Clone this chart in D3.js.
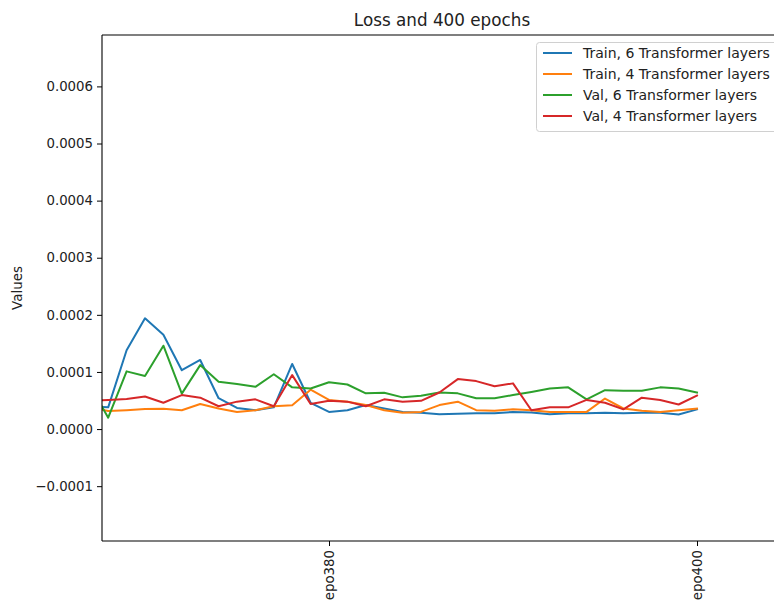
<!DOCTYPE html>
<html>
<head>
<meta charset="utf-8">
<script src="https://cdn.jsdelivr.net/npm/d3@7/dist/d3.min.js"></script>
<style>
  html, body { margin: 0; padding: 0; background: #fff; }
  svg { display: block; }
  text { font-family: "DejaVu Sans", sans-serif; fill: #222; }
</style>
</head>
<body>
<svg id="chart" width="774" height="603"></svg>
<script>
// ---- data (values in units of 1e-5) ----
const epochs = d3.range(367, 401).map(e => "epo" + e);
const tickLabels = ["epo380", "epo400"];
const yTicks = [-0.0001, 0, 0.0001, 0.0002, 0.0003, 0.0004, 0.0005, 0.0006];
const seriesNames = ["Train, 6 Transformer layers", "Train, 4 Transformer layers",
                     "Val, 6 Transformer layers", "Val, 4 Transformer layers"];
const train6 = [4.0, 3.8, 13.8, 19.4, 16.5, 10.3, 12.1, 5.4, 3.7, 3.3, 3.8, 11.4, 4.6, 3.0, 3.3,
                4.2, 3.6, 3.0, 2.85, 2.6, 2.7, 2.75, 2.75, 3.0, 2.9, 2.6, 2.75, 2.75, 2.85, 2.75, 2.85, 2.85, 2.55, 3.45];
const train4 = [3.8, 3.15, 3.3, 3.5, 3.55, 3.3, 4.4, 3.6, 3.0, 3.3, 4.0, 4.15, 6.9, 5.1, 4.8,
                4.2, 3.3, 2.85, 3.0, 4.2, 4.8, 3.3, 3.2, 3.45, 3.3, 3.0, 3.0, 3.0, 5.35, 3.6, 3.2, 3.0, 3.3, 3.6];
const val6   = [7.6, 2.0, 10.1, 9.3, 14.6, 6.2, 11.2, 8.3, 7.9, 7.4, 9.6, 7.3, 7.1, 8.2, 7.8,
                6.25, 6.35, 5.55, 5.85, 6.4, 6.25, 5.4, 5.4, 5.95, 6.5, 7.1, 7.3, 5.2, 6.8, 6.7, 6.7, 7.3, 7.1, 6.4];
const val4   = [4.9, 5.1, 5.25, 5.7, 4.6, 5.95, 5.5, 4.0, 4.8, 5.2, 4.0, 9.45, 4.4, 4.95, 4.8,
                4.0, 5.2, 4.8, 4.95, 6.4, 8.75, 8.4, 7.5, 8.0, 3.3, 3.8, 3.8, 5.1, 4.6, 3.45, 5.5, 5.1, 4.3, 5.85];
const colors = ["#1f77b4", "#ff7f0e", "#2ca02c", "#d62728"];

// ---- layout ----
const svg = d3.select("#chart");
const mLeft = 102, mRight = 782, mTop = 35, mBottom = 541;

const x = d3.scalePoint().domain(epochs).range([89.8, 697]);
const y = d3.scaleLinear().domain([-0.000196, 0.00069]).range([mBottom, mTop]);

svg.append("defs").append("clipPath").attr("id", "clip")
  .append("rect").attr("x", mLeft).attr("y", mTop).attr("width", mRight - mLeft).attr("height", mBottom - mTop);

const allSeries = [train6, train4, val6, val4];
const line = d3.line().x((d, i) => x(epochs[i])).y(d => y(d * 1e-5));

const g = svg.append("g").attr("clip-path", "url(#clip)");
allSeries.forEach((s, k) => {
  g.append("path").datum(s)
    .attr("d", line)
    .attr("fill", "none")
    .attr("stroke", colors[k])
    .attr("stroke-width", 2)
    .attr("stroke-linejoin", "round")
    .attr("stroke-linecap", "square");
});

// spines
svg.append("line").attr("x1", mLeft).attr("x2", mLeft).attr("y1", mTop).attr("y2", mBottom)
  .attr("stroke", "#000").attr("stroke-width", 1.1);
svg.append("line").attr("x1", mLeft).attr("x2", mRight).attr("y1", mTop).attr("y2", mTop)
  .attr("stroke", "#000").attr("stroke-width", 1.1);
svg.append("line").attr("x1", mLeft).attr("x2", mRight).attr("y1", mBottom).attr("y2", mBottom)
  .attr("stroke", "#000").attr("stroke-width", 1.1);

// y axis
const yAxis = d3.axisLeft(y).tickValues(yTicks).tickFormat(d3.format(".4f")).tickSize(5).tickPadding(4);
const ya = svg.append("g").attr("transform", `translate(${mLeft},0)`).call(yAxis);
ya.select(".domain").remove();
ya.selectAll("text").attr("font-size", 13.3).attr("font-family", "DejaVu Sans, sans-serif").attr("fill", "#222");
ya.selectAll("line").attr("stroke", "#000");

// x axis
const xAxis = d3.axisBottom(x).tickValues(tickLabels).tickSize(5).tickPadding(4);
const xa = svg.append("g").attr("transform", `translate(0,${mBottom})`).call(xAxis);
xa.select(".domain").remove();
xa.selectAll("line").attr("stroke", "#000");
xa.selectAll("text")
  .attr("font-size", 13.3).attr("font-family", "DejaVu Sans, sans-serif").attr("fill", "#222")
  .attr("transform", "rotate(-90)")
  .attr("text-anchor", "end")
  .attr("x", -9).attr("y", 0).attr("dy", "0.35em");

// title
svg.append("text").attr("x", 442).attr("y", 26).attr("text-anchor", "middle")
  .attr("font-size", 16.8).text("Loss and 400 epochs");

// y label
svg.append("text").attr("transform", `translate(22,${(mTop + mBottom) / 2}) rotate(-90)`)
  .attr("text-anchor", "middle").attr("font-size", 13.5).text("Values");

// legend
const lg = svg.append("g");
lg.append("rect").attr("x", 536.5).attr("y", 42.5).attr("width", 245).attr("height", 89)
  .attr("rx", 3).attr("fill", "#fff").attr("fill-opacity", 0.8)
  .attr("stroke", "#d0d0d0").attr("stroke-width", 1);
seriesNames.forEach((name, k) => {
  const cy = 53 + k * 21;
  lg.append("line").attr("x1", 543).attr("x2", 572).attr("y1", cy).attr("y2", cy)
    .attr("stroke", colors[k]).attr("stroke-width", 2);
  lg.append("text").attr("x", 583).attr("y", cy).attr("dy", "0.35em")
    .attr("font-size", 14).text(name);
});
</script>
</body>
</html>
